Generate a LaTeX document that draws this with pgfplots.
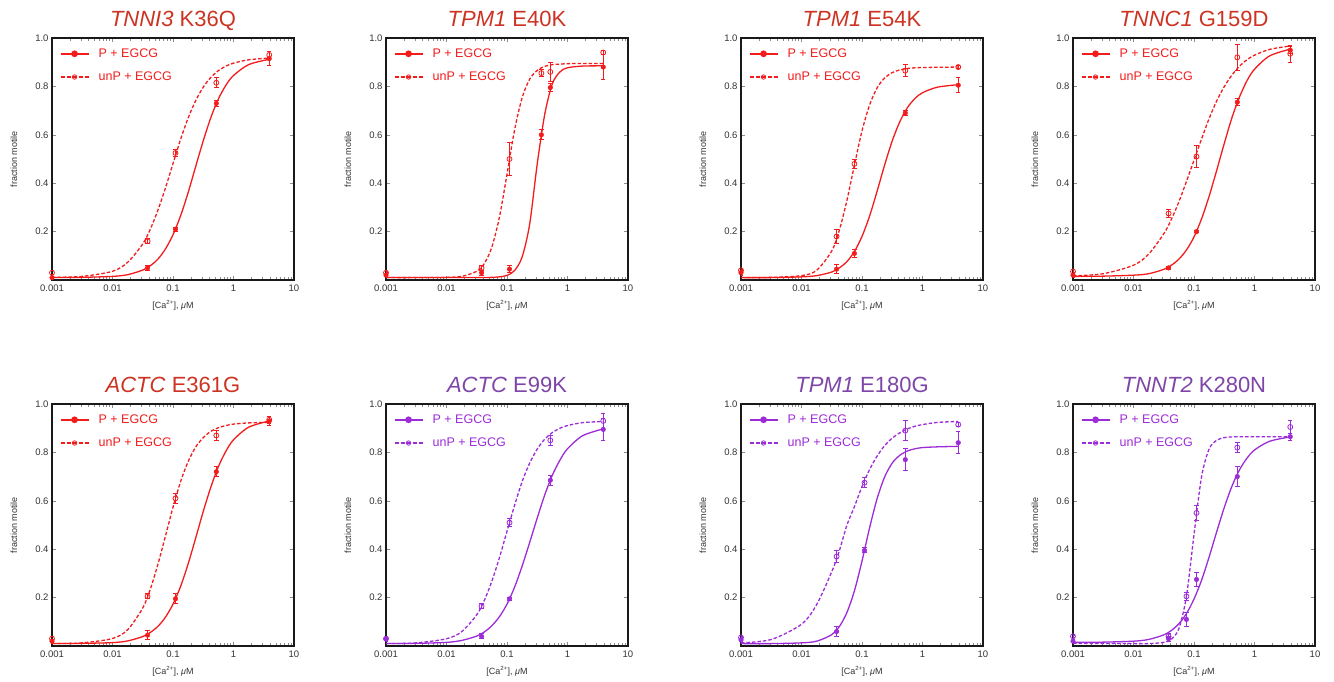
\documentclass[border=0pt]{standalone}
\usepackage{fontspec}
\setmainfont{Liberation Sans}
\usepackage{pgfplots}
\usepackage{pgfplotstable}
\pgfplotsset{compat=1.18}

\definecolor{tred}{HTML}{CC3322}
\definecolor{lred}{HTML}{F21C1C}
\definecolor{tpur}{HTML}{7E46A8}
\definecolor{lpur}{HTML}{9C2BD8}
\definecolor{txt}{HTML}{333333}

% fitted Hill curves (x in uM)
\pgfplotstableread{
x        aP    aU    bP    bU    cP    cU    dP    dU    eP    eU    fP    fU    gP    gU    hP    hU
0.001    0.010 0.011 0.010 0.010 0.010 0.010 0.015 0.017 0.010 0.010 0.010 0.010 0.010 0.013 0.015 0.010
0.003162 0.011 0.015 0.010 0.010 0.010 0.011 0.016 0.026 0.011 0.013 0.011 0.013 0.010 0.027 0.016 0.010
0.01     0.015 0.036 0.010 0.011 0.013 0.018 0.020 0.061 0.014 0.031 0.015 0.030 0.013 0.090 0.020 0.010
0.01778  0.022 0.073 0.010 0.015 0.018 0.040 0.026 0.107 0.021 0.067 0.023 0.059 0.020 0.171 0.027 0.010
0.03162  0.041 0.149 0.010 0.036 0.033 0.120 0.044 0.191 0.039 0.157 0.041 0.129 0.047 0.307 0.046 0.015
0.04217  0.059 0.210 0.010 0.068 0.050 0.205 0.061 0.250 0.056 0.235 0.058 0.188 0.080 0.393 0.064 0.028
0.05623  0.086 0.288 0.011 0.136 0.076 0.328 0.086 0.323 0.081 0.337 0.084 0.268 0.138 0.499 0.092 0.072
0.07499  0.128 0.380 0.013 0.260 0.118 0.475 0.124 0.407 0.119 0.454 0.121 0.365 0.228 0.576 0.134 0.205
0.1      0.187 0.481 0.019 0.437 0.180 0.616 0.178 0.495 0.173 0.573 0.173 0.474 0.351 0.659 0.194 0.460
0.1334   0.265 0.581 0.039 0.620 0.264 0.723 0.253 0.583 0.246 0.679 0.243 0.581 0.488 0.729 0.272 0.700
0.1778   0.361 0.669 0.095 0.753 0.367 0.794 0.346 0.667 0.339 0.762 0.330 0.679 0.609 0.785 0.368 0.814
0.2371   0.469 0.741 0.231 0.830 0.476 0.835 0.453 0.740 0.446 0.822 0.428 0.756 0.699 0.828 0.472 0.850
0.3162   0.575 0.797 0.480 0.866 0.575 0.857 0.564 0.799 0.556 0.861 0.529 0.814 0.756 0.859 0.572 0.861
0.4217   0.671 0.837 0.686 0.883 0.654 0.868 0.669 0.846 0.656 0.887 0.625 0.855 0.788 0.881 0.659 0.864
0.5623   0.748 0.865 0.811 0.890 0.712 0.874 0.755 0.883 0.741 0.902 0.706 0.882 0.806 0.897 0.727 0.865
0.7499   0.805 0.884 0.860 0.892 0.750 0.877 0.823 0.910 0.805 0.911 0.768 0.900 0.815 0.908 0.776 0.865
1        0.845 0.896 0.877 0.894 0.774 0.878 0.871 0.929 0.852 0.917 0.815 0.911 0.820 0.915 0.810 0.865
1.778    0.890 0.910 0.884 0.895 0.797 0.879 0.926 0.953 0.904 0.922 0.869 0.923 0.823 0.924 0.846 0.865
3.89     0.912 0.917 0.885 0.895 0.807 0.880 0.954 0.967 0.930 0.924 0.897 0.928 0.825 0.928 0.864 0.865
}\curves

% shared look of all eight panels
\pgfplotsset{
  width=242pt, height=242pt, scale only axis,
  xmin=0.001, xmax=10, ymin=0, ymax=1,
  xtick={0.001,0.01,0.1,1,10}, xticklabels={0.001,0.01,0.1,1,10},
  ytick={0.2,0.4,0.6,0.8,1.0}, yticklabels={0.2,0.4,0.6,0.8,1.0},
  minor xtick={},
  tick align=inside, major tick length=4pt,
  tick style={black!45, line width=0.5pt},
  axis line style={line width=1.3pt, black!90},
  tick label style={font=\fontsize{9.5}{10}\selectfont, text=txt},
  xticklabel style={yshift=-1.5pt},
  xlabel={[Ca\textsuperscript{2+}], \textit{μ}M},
  ylabel={fraction motile},
  label style={font=\fontsize{9}{10}\selectfont, text=txt},
  x label style={at={(axis description cs:0.5,-0.103)}, anchor=center},
  y label style={at={(axis description cs:-0.157,0.5)}, anchor=center},
  title style={at={(axis description cs:0.5,1)}, anchor=base, yshift=6pt,
    font=\fontsize{22}{24}\selectfont},
  legend style={draw=none, fill=none, at={(axis description cs:0.03,0.965)}, anchor=north west,
    font=\fontsize{12.5}{14}\selectfont, row sep=9pt, column sep=7pt, inner sep=0pt},
  legend cell align=left,
  legend image code/.code={\draw[mark repeat=2,mark phase=2,#1] plot coordinates {(0pt,0pt) (14pt,0pt) (28pt,0pt)};},
  fitP/.style={#1, line width=1.3pt, smooth, no markers, forget plot},
  fitU/.style={#1, line width=1.3pt, dash pattern=on 3.5pt off 2pt, smooth, no markers, forget plot},
  ptP/.style={#1, only marks, mark=*, mark size=2.3pt, forget plot,
    error bars/y dir=both, error bars/y explicit,
    error bars/error bar style={#1, solid, line width=1pt},
    error bars/error mark options={#1, rotate=90, mark size=2.2pt, line width=1pt}},
  ptU/.style={#1, only marks, mark=o, mark size=2.5pt, mark options={line width=0.8pt}, forget plot,
    error bars/y dir=both, error bars/y explicit,
    error bars/error bar style={#1, solid, line width=1pt},
    error bars/error mark options={#1, rotate=90, mark size=2.2pt, line width=1pt}},
}

\begin{document}
\begin{tikzpicture}
\path[use as bounding box] (0pt,0pt) rectangle (1334pt,-681pt);

% ---- row 1 ----
\begin{semilogxaxis}[at={(52pt,-38pt)}, anchor=north west,
  title={\textit{TNNI3} K36Q}, title style={text=tred}, legend style={text=lred}]
\addlegendimage{lred, line width=2.2pt, mark=*, mark size=2.2pt}
\addlegendentry{P + EGCG}
\addlegendimage{lred, line width=2.2pt, dash pattern=on 4pt off 2pt, mark=o, mark size=2.2pt, mark options={solid, line width=0.8pt}}
\addlegendentry{unP + EGCG}
\addplot[fitP=lred] table[x=x,y=aP]{\curves};
\addplot[fitU=lred] table[x=x,y=aU]{\curves};
\addplot[ptP=lred] coordinates {(0.001,0.01) +- (0,0.005) (0.038,0.05) +- (0,0.01) (0.11,0.21) +- (0,0.008) (0.52,0.73) +- (0,0.012) (3.9,0.915) +- (0,0.03)};
\addplot[ptU=lred] coordinates {(0.001,0.03) +- (0,0.008) (0.038,0.16) +- (0,0.01) (0.11,0.525) +- (0,0.015) (0.52,0.815) +- (0,0.02) (3.9,0.93) +- (0,0.015)};
\end{semilogxaxis}

\begin{semilogxaxis}[at={(386pt,-38pt)}, anchor=north west,
  title={\textit{TPM1} E40K}, title style={text=tred}, legend style={text=lred}]
\addlegendimage{lred, line width=2.2pt, mark=*, mark size=2.2pt}
\addlegendentry{P + EGCG}
\addlegendimage{lred, line width=2.2pt, dash pattern=on 4pt off 2pt, mark=o, mark size=2.2pt, mark options={solid, line width=0.8pt}}
\addlegendentry{unP + EGCG}
\addplot[fitP=lred] table[x=x,y=bP]{\curves};
\addplot[fitU=lred] table[x=x,y=bU]{\curves};
\addplot[ptP=lred] coordinates {(0.001,0.02) +- (0,0.01) (0.038,0.03) +- (0,0.01) (0.11,0.045) +- (0,0.015) (0.37,0.60) +- (0,0.02) (0.52,0.795) +- (0,0.015) (3.9,0.88) +- (0,0.05)};
\addplot[ptU=lred] coordinates {(0.001,0.03) +- (0,0.005) (0.038,0.05) +- (0,0.01) (0.11,0.50) +- (0,0.07) (0.37,0.855) +- (0,0.015) (0.52,0.86) +- (0,0.04) (3.9,0.94) +- (0,0.01)};
\end{semilogxaxis}

\begin{semilogxaxis}[at={(741pt,-38pt)}, anchor=north west,
  title={\textit{TPM1} E54K}, title style={text=tred}, legend style={text=lred}]
\addlegendimage{lred, line width=2.2pt, mark=*, mark size=2.2pt}
\addlegendentry{P + EGCG}
\addlegendimage{lred, line width=2.2pt, dash pattern=on 4pt off 2pt, mark=o, mark size=2.2pt, mark options={solid, line width=0.8pt}}
\addlegendentry{unP + EGCG}
\addplot[fitP=lred] table[x=x,y=cP]{\curves};
\addplot[fitU=lred] table[x=x,y=cU]{\curves};
\addplot[ptP=lred] coordinates {(0.001,0.03) +- (0,0.01) (0.038,0.045) +- (0,0.02) (0.075,0.11) +- (0,0.015) (0.52,0.69) +- (0,0.01) (3.9,0.805) +- (0,0.03)};
\addplot[ptU=lred] coordinates {(0.001,0.04) +- (0,0.005) (0.038,0.18) +- (0,0.03) (0.075,0.48) +- (0,0.02) (0.52,0.865) +- (0,0.025) (3.9,0.88) +- (0,0.005)};
\end{semilogxaxis}

\begin{semilogxaxis}[at={(1073pt,-38pt)}, anchor=north west,
  title={\textit{TNNC1} G159D}, title style={text=tred}, legend style={text=lred}]
\addlegendimage{lred, line width=2.2pt, mark=*, mark size=2.2pt}
\addlegendentry{P + EGCG}
\addlegendimage{lred, line width=2.2pt, dash pattern=on 4pt off 2pt, mark=o, mark size=2.2pt, mark options={solid, line width=0.8pt}}
\addlegendentry{unP + EGCG}
\addplot[fitP=lred] table[x=x,y=dP]{\curves};
\addplot[fitU=lred] table[x=x,y=dU]{\curves};
\addplot[ptP=lred] coordinates {(0.001,0.02) +- (0,0.01) (0.038,0.05) +- (0,0.005) (0.11,0.20) +- (0,0.005) (0.52,0.735) +- (0,0.015) (3.9,0.95) +- (0,0.015)};
\addplot[ptU=lred] coordinates {(0.001,0.035) +- (0,0.01) (0.038,0.275) +- (0,0.015) (0.11,0.51) +- (0,0.045) (0.52,0.92) +- (0,0.055) (3.9,0.935) +- (0,0.035)};
\end{semilogxaxis}

% ---- row 2 ----
\begin{semilogxaxis}[at={(52pt,-404pt)}, anchor=north west,
  title={\textit{ACTC} E361G}, title style={text=tred}, legend style={text=lred}]
\addlegendimage{lred, line width=2.2pt, mark=*, mark size=2.2pt}
\addlegendentry{P + EGCG}
\addlegendimage{lred, line width=2.2pt, dash pattern=on 4pt off 2pt, mark=o, mark size=2.2pt, mark options={solid, line width=0.8pt}}
\addlegendentry{unP + EGCG}
\addplot[fitP=lred] table[x=x,y=eP]{\curves};
\addplot[fitU=lred] table[x=x,y=eU]{\curves};
\addplot[ptP=lred] coordinates {(0.001,0.02) +- (0,0.005) (0.038,0.045) +- (0,0.02) (0.11,0.195) +- (0,0.02) (0.52,0.72) +- (0,0.02) (3.9,0.93) +- (0,0.02)};
\addplot[ptU=lred] coordinates {(0.001,0.03) +- (0,0.008) (0.038,0.205) +- (0,0.01) (0.11,0.61) +- (0,0.02) (0.52,0.87) +- (0,0.02) (3.9,0.935) +- (0,0.015)};
\end{semilogxaxis}

\begin{semilogxaxis}[at={(386pt,-404pt)}, anchor=north west,
  title={\textit{ACTC} E99K}, title style={text=tpur}, legend style={text=lpur}]
\addlegendimage{lpur, line width=2.2pt, mark=*, mark size=2.2pt}
\addlegendentry{P + EGCG}
\addlegendimage{lpur, line width=2.2pt, dash pattern=on 4pt off 2pt, mark=o, mark size=2.2pt, mark options={solid, line width=0.8pt}}
\addlegendentry{unP + EGCG}
\addplot[fitP=lpur] table[x=x,y=fP]{\curves};
\addplot[fitU=lpur] table[x=x,y=fU]{\curves};
\addplot[ptP=lpur] coordinates {(0.001,0.03) +- (0,0.01) (0.038,0.04) +- (0,0.01) (0.11,0.195) +- (0,0.005) (0.52,0.685) +- (0,0.02) (3.9,0.895) +- (0,0.045)};
\addplot[ptU=lpur] coordinates {(0.001,0.03) +- (0,0.01) (0.038,0.165) +- (0,0.01) (0.11,0.51) +- (0,0.015) (0.52,0.85) +- (0,0.02) (3.9,0.93) +- (0,0.03)};
\end{semilogxaxis}

\begin{semilogxaxis}[at={(741pt,-404pt)}, anchor=north west,
  title={\textit{TPM1} E180G}, title style={text=tpur}, legend style={text=lpur}]
\addlegendimage{lpur, line width=2.2pt, mark=*, mark size=2.2pt}
\addlegendentry{P + EGCG}
\addlegendimage{lpur, line width=2.2pt, dash pattern=on 4pt off 2pt, mark=o, mark size=2.2pt, mark options={solid, line width=0.8pt}}
\addlegendentry{unP + EGCG}
\addplot[fitP=lpur] table[x=x,y=gP]{\curves};
\addplot[fitU=lpur] table[x=x,y=gU]{\curves};
\addplot[ptP=lpur] coordinates {(0.001,0.025) +- (0,0.01) (0.038,0.06) +- (0,0.02) (0.11,0.395) +- (0,0.01) (0.52,0.77) +- (0,0.045) (3.9,0.84) +- (0,0.045)};
\addplot[ptU=lpur] coordinates {(0.001,0.035) +- (0,0.005) (0.038,0.37) +- (0,0.025) (0.11,0.675) +- (0,0.02) (0.52,0.89) +- (0,0.04) (3.9,0.915) +- (0,0.01)};
\end{semilogxaxis}

\begin{semilogxaxis}[at={(1073pt,-404pt)}, anchor=north west,
  title={\textit{TNNT2} K280N}, title style={text=tpur}, legend style={text=lpur}]
\addlegendimage{lpur, line width=2.2pt, mark=*, mark size=2.2pt}
\addlegendentry{P + EGCG}
\addlegendimage{lpur, line width=2.2pt, dash pattern=on 4pt off 2pt, mark=o, mark size=2.2pt, mark options={solid, line width=0.8pt}}
\addlegendentry{unP + EGCG}
\addplot[fitP=lpur] table[x=x,y=hP]{\curves};
\addplot[fitU=lpur] table[x=x,y=hU]{\curves};
\addplot[ptP=lpur] coordinates {(0.001,0.02) +- (0,0.005) (0.038,0.03) +- (0,0.01) (0.075,0.11) +- (0,0.03) (0.11,0.275) +- (0,0.03) (0.52,0.70) +- (0,0.04) (3.9,0.865) +- (0,0.015)};
\addplot[ptU=lpur] coordinates {(0.001,0.04) +- (0,0.005) (0.038,0.04) +- (0,0.01) (0.075,0.205) +- (0,0.015) (0.11,0.55) +- (0,0.03) (0.52,0.82) +- (0,0.02) (3.9,0.905) +- (0,0.025)};
\end{semilogxaxis}
\end{tikzpicture}
\end{document}
